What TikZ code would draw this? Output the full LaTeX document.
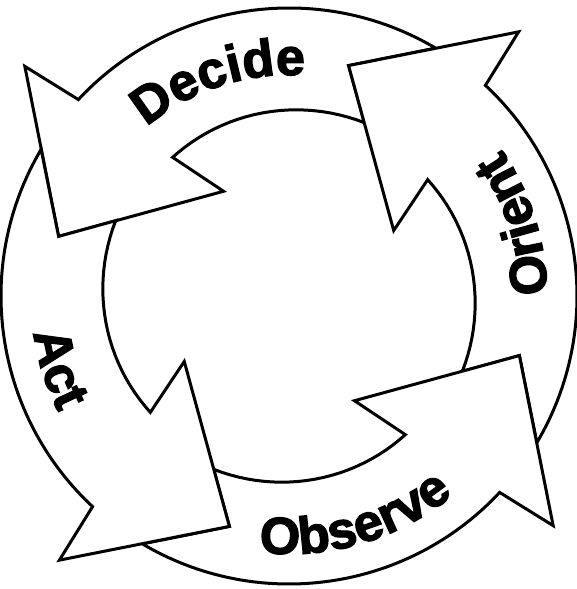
\documentclass[tikz,border=0pt]{standalone}
\usepackage{fontspec}
\setmainfont{Liberation Sans}
\newfontfamily\loopface{Liberation Sans}[BoldFeatures={FakeBold=2.5}]
\usetikzlibrary{decorations.text}

\newcommand{\loopfont}{\loopface\fontsize{52}{52}\selectfont\bfseries}

\tikzset{
  looparrow/.style={draw=black, fill=white, line width=3pt, line join=miter},
  looplabel/.style={decorate, decoration={text along path, text align=center, text={|\loopfont|#1}}}
}

\begin{document}
\begin{tikzpicture}[x=1pt,y=1pt]
  \useasboundingbox (-289,-293) rectangle (287,296);
  \coordinate (hub) at (0,0);
  % one arrow of the ring, turned a quarter further each time
  \foreach \k in {0,1,2,3} {
    \begin{scope}[shift={(hub)}, rotate=-90*\k]
      \draw[looparrow] (59.4:288) arc[start angle=59.4, end angle=137, radius=288]
        -- (139:350) -- (165.5:238) -- (122:123.5) -- (130:181)
        -- plot[domain=130:66.5, samples=25] (\x:{181+(130-\x)*0.126})
        -- (75.5:238) -- cycle;
    \end{scope}
  }
  % labels along the ring
  \path[looplabel=Decide] (158:221) arc[start angle=158, end angle=58, radius=221];
  \path[looplabel=Orient] (-32.5:258) arc[start angle=-32.5, end angle=67.5, radius=258];
  \path[looplabel=Observe] (-123.5:258) arc[start angle=-123.5, end angle=-23.5, radius=258];
  \path[looplabel=Act] (147.5:258) arc[start angle=147.5, end angle=247.5, radius=258];
\end{tikzpicture}
\end{document}
